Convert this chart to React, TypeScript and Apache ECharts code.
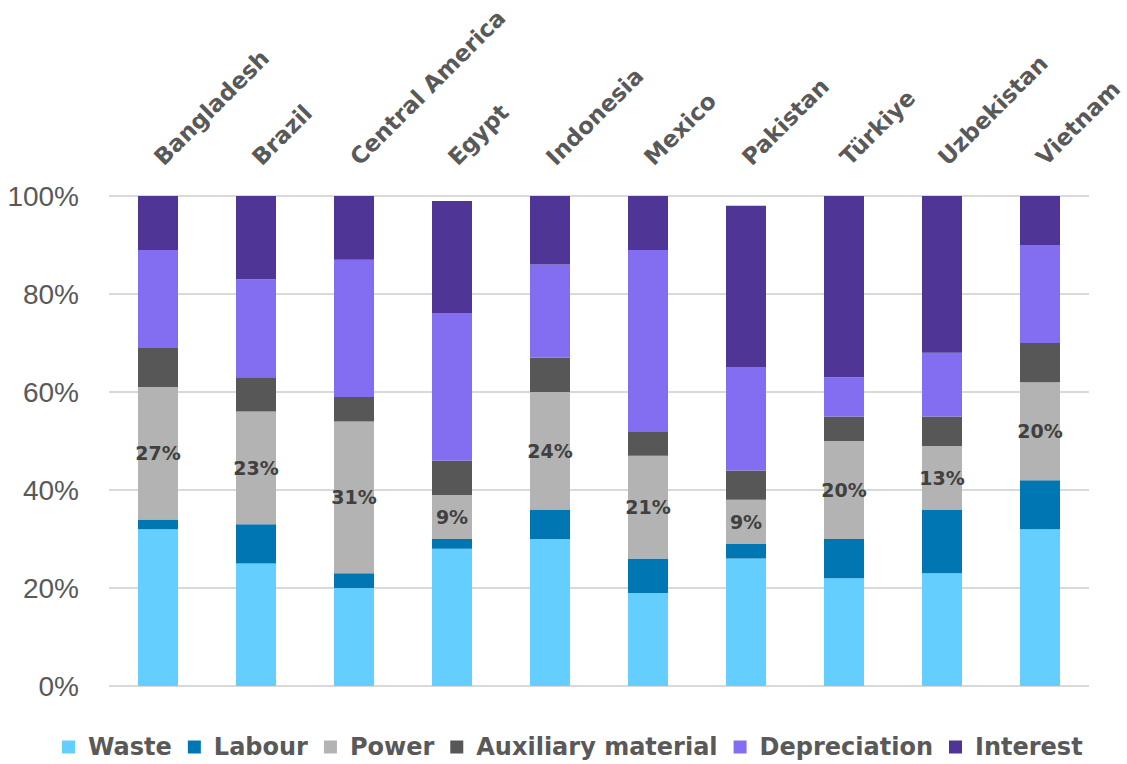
import React, { useEffect, useRef } from "react";
import * as echarts from "echarts";

const categories = ["Bangladesh", "Brazil", "Central America", "Egypt", "Indonesia", "Mexico", "Pakistan", "Türkiye", "Uzbekistan", "Vietnam"];
const seriesNames = ["Waste", "Labour", "Power", "Auxiliary material", "Depreciation", "Interest"];
const waste = [32, 25, 20, 28, 30, 19, 26, 22, 23, 32];
const labour = [2, 8, 3, 2, 6, 7, 3, 8, 13, 10];
const power = [27, 23, 31, 9, 24, 21, 9, 20, 13, 20];
const auxiliary = [8, 7, 5, 7, 7, 5, 6, 5, 6, 8];
const depreciation = [20, 20, 28, 30, 19, 37, 21, 8, 13, 20];
const interest = [11, 17, 13, 23, 14, 11, 33, 37, 32, 10];
const yMin = 0;
const yMax = 100;
const yStep = 20;

const colors = ["#63CEFF", "#0076B3", "#B3B3B3", "#575757", "#836EF1", "#4E3596"];

export default function App() {
  const ref = useRef<HTMLDivElement>(null);
  useEffect(() => {
    document.body.style.margin = "0";
    if (!ref.current) return;
    const chart = echarts.init(ref.current, null, { renderer: "svg" });
    const values = [waste, labour, power, auxiliary, depreciation, interest];
    const series = seriesNames.map((name, i) => ({
      name,
      type: "bar",
      stack: "total",
      barWidth: 40,
      data: values[i],
      itemStyle: { color: colors[i] },
      label: i === 2
        ? {
            show: true,
            position: "inside",
            formatter: (p: any) => `${p.value}%`,
            fontFamily: "DejaVu Sans",
            fontWeight: "bold",
            fontSize: 19,
            color: "#404040",
          }
        : { show: false },
    }));
    chart.setOption({
      animation: false,
      color: colors,
      grid: { left: 109, right: 38, top: 196, bottom: 78, containLabel: false, outerBoundsMode: "none" },
      legend: {
        left: 62,
        top: 735,
        padding: 0,
        itemWidth: 13,
        itemHeight: 13,
        itemGap: 16,
        icon: "rect",
        textStyle: {
          fontFamily: "DejaVu Sans",
          fontWeight: "bold",
          fontSize: 24,
          color: "#595959",
          padding: [0, 0, 0, 8],
        },
        data: seriesNames,
      },
      xAxis: {
        type: "category",
        position: "top",
        data: categories,
        axisLine: { show: false },
        axisTick: { show: false },
        axisLabel: {
          interval: 0,
          rotate: 45,
          margin: 35,
          fontFamily: "DejaVu Sans",
          fontWeight: "bold",
          fontSize: 23,
          color: "#595959",
        },
      },
      yAxis: {
        type: "value",
        min: yMin,
        max: yMax,
        interval: yStep,
        axisLine: { show: false },
        axisTick: { show: false },
        splitLine: { lineStyle: { color: "#D9D9D9", width: 2 } },
        axisLabel: {
          formatter: "{value}%",
          margin: 30,
          fontFamily: "Liberation Sans",
          fontSize: 28,
          color: "#595959",
        },
      },
      series,
    });
    return () => chart.dispose();
  }, []);
  return <div ref={ref} style={{ width: 1127, height: 764 }} />;
}
